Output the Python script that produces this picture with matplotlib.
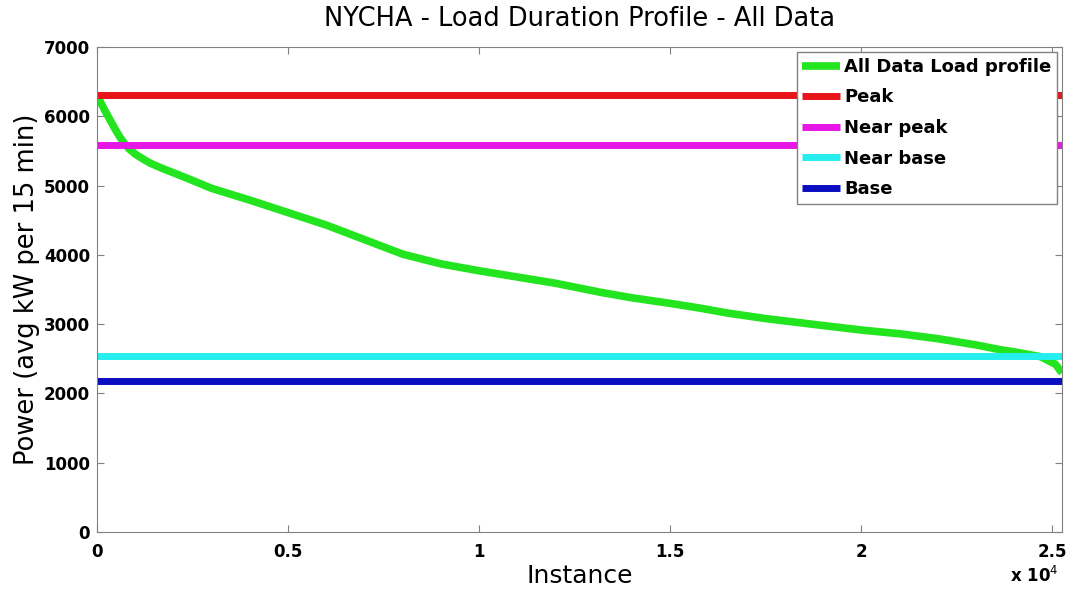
import matplotlib
matplotlib.use("Agg")
import matplotlib.pyplot as plt

plt.rcParams['font.family'] = ['DejaVu Sans']

# Load duration curve (sorted)
instance = [0, 80, 210, 340, 470, 600, 730, 850, 1000, 1200, 1390, 1700, 2000, 2430,
            3000, 4000, 5000, 6000, 7000, 8000, 9000, 10000, 11000, 12000, 13170,
            14000, 15000, 15790, 16500, 17500, 18400, 19000, 20000, 21020, 22000,
            23000, 23640, 24000, 24690, 25080, 25250]
power = [6280, 6220, 6080, 5950, 5820, 5700, 5600, 5525, 5455, 5385, 5325, 5250, 5185, 5090,
         4960, 4790, 4610, 4430, 4220, 4010, 3870, 3770, 3680, 3590, 3460,
         3380, 3300, 3230, 3160, 3080, 3020, 2980, 2915, 2860, 2790,
         2700, 2630, 2600, 2530, 2420, 2295]

levels = [6310, 5590, 2540, 2180]
level_names = ['Peak', 'Near peak', 'Near base', 'Base']
level_colors = ['#e8141a', '#e617e6', '#26eeee', '#0a0dc0']
curve_name = 'All Data Load profile'
curve_color = '#22e51f'

xmax = 25250
xticks = [0, 5000, 10000, 15000, 20000, 25000]
xtick_labels = ['0', '0.5', '1', '1.5', '2', '2.5']
yticks = [0, 1000, 2000, 3000, 4000, 5000, 6000, 7000]

fig = plt.figure(figsize=(10.69, 5.96), dpi=100)
ax = fig.add_axes([0.0907, 0.1074, 0.9935 - 0.0907, 0.9211 - 0.1074])

ax.plot(instance, power, color=curve_color, lw=5.5, label=curve_name,
        solid_capstyle='butt', solid_joinstyle='round')
for v, n, c in zip(levels, level_names, level_colors):
    ax.plot([0, xmax], [v, v], color=c, lw=5, label=n, solid_capstyle='butt')

ax.set_xlim(0, xmax)
ax.set_ylim(0, 7000)
ax.set_xticks(xticks)
ax.set_xticklabels(xtick_labels)
ax.set_yticks(yticks)
for s in ax.spines.values():
    s.set_color('#808080')
ax.tick_params(direction='in', length=5, color='#808080', labelsize=12,
               top=True, right=True)
ax.tick_params(axis='x', pad=8)
ax.tick_params(axis='y', pad=5)
for lab in ax.get_xticklabels() + ax.get_yticklabels():
    lab.set_fontweight('bold')

ax.set_title('NYCHA - Load Duration Profile - All Data', fontsize=18.5, pad=15)
ax.set_xlabel('Instance', fontsize=18, labelpad=2)
ax.set_ylabel('Power (avg kW per 15 min)', fontsize=18.5, labelpad=3)
fig.text(0.99, 0.017, r'x 10$^{4}$', ha='right', va='bottom', fontsize=12, fontweight='bold')

leg = ax.legend(loc='upper right', prop={'weight': 'bold', 'size': 13},
                handlelength=2.1, handletextpad=0.2, labelspacing=0.7,
                borderaxespad=0.3, fancybox=False, framealpha=1, edgecolor='#808080',
                borderpad=0.3)
leg.get_frame().set_linewidth(1.0)

fig.savefig('out.png', dpi=100)
